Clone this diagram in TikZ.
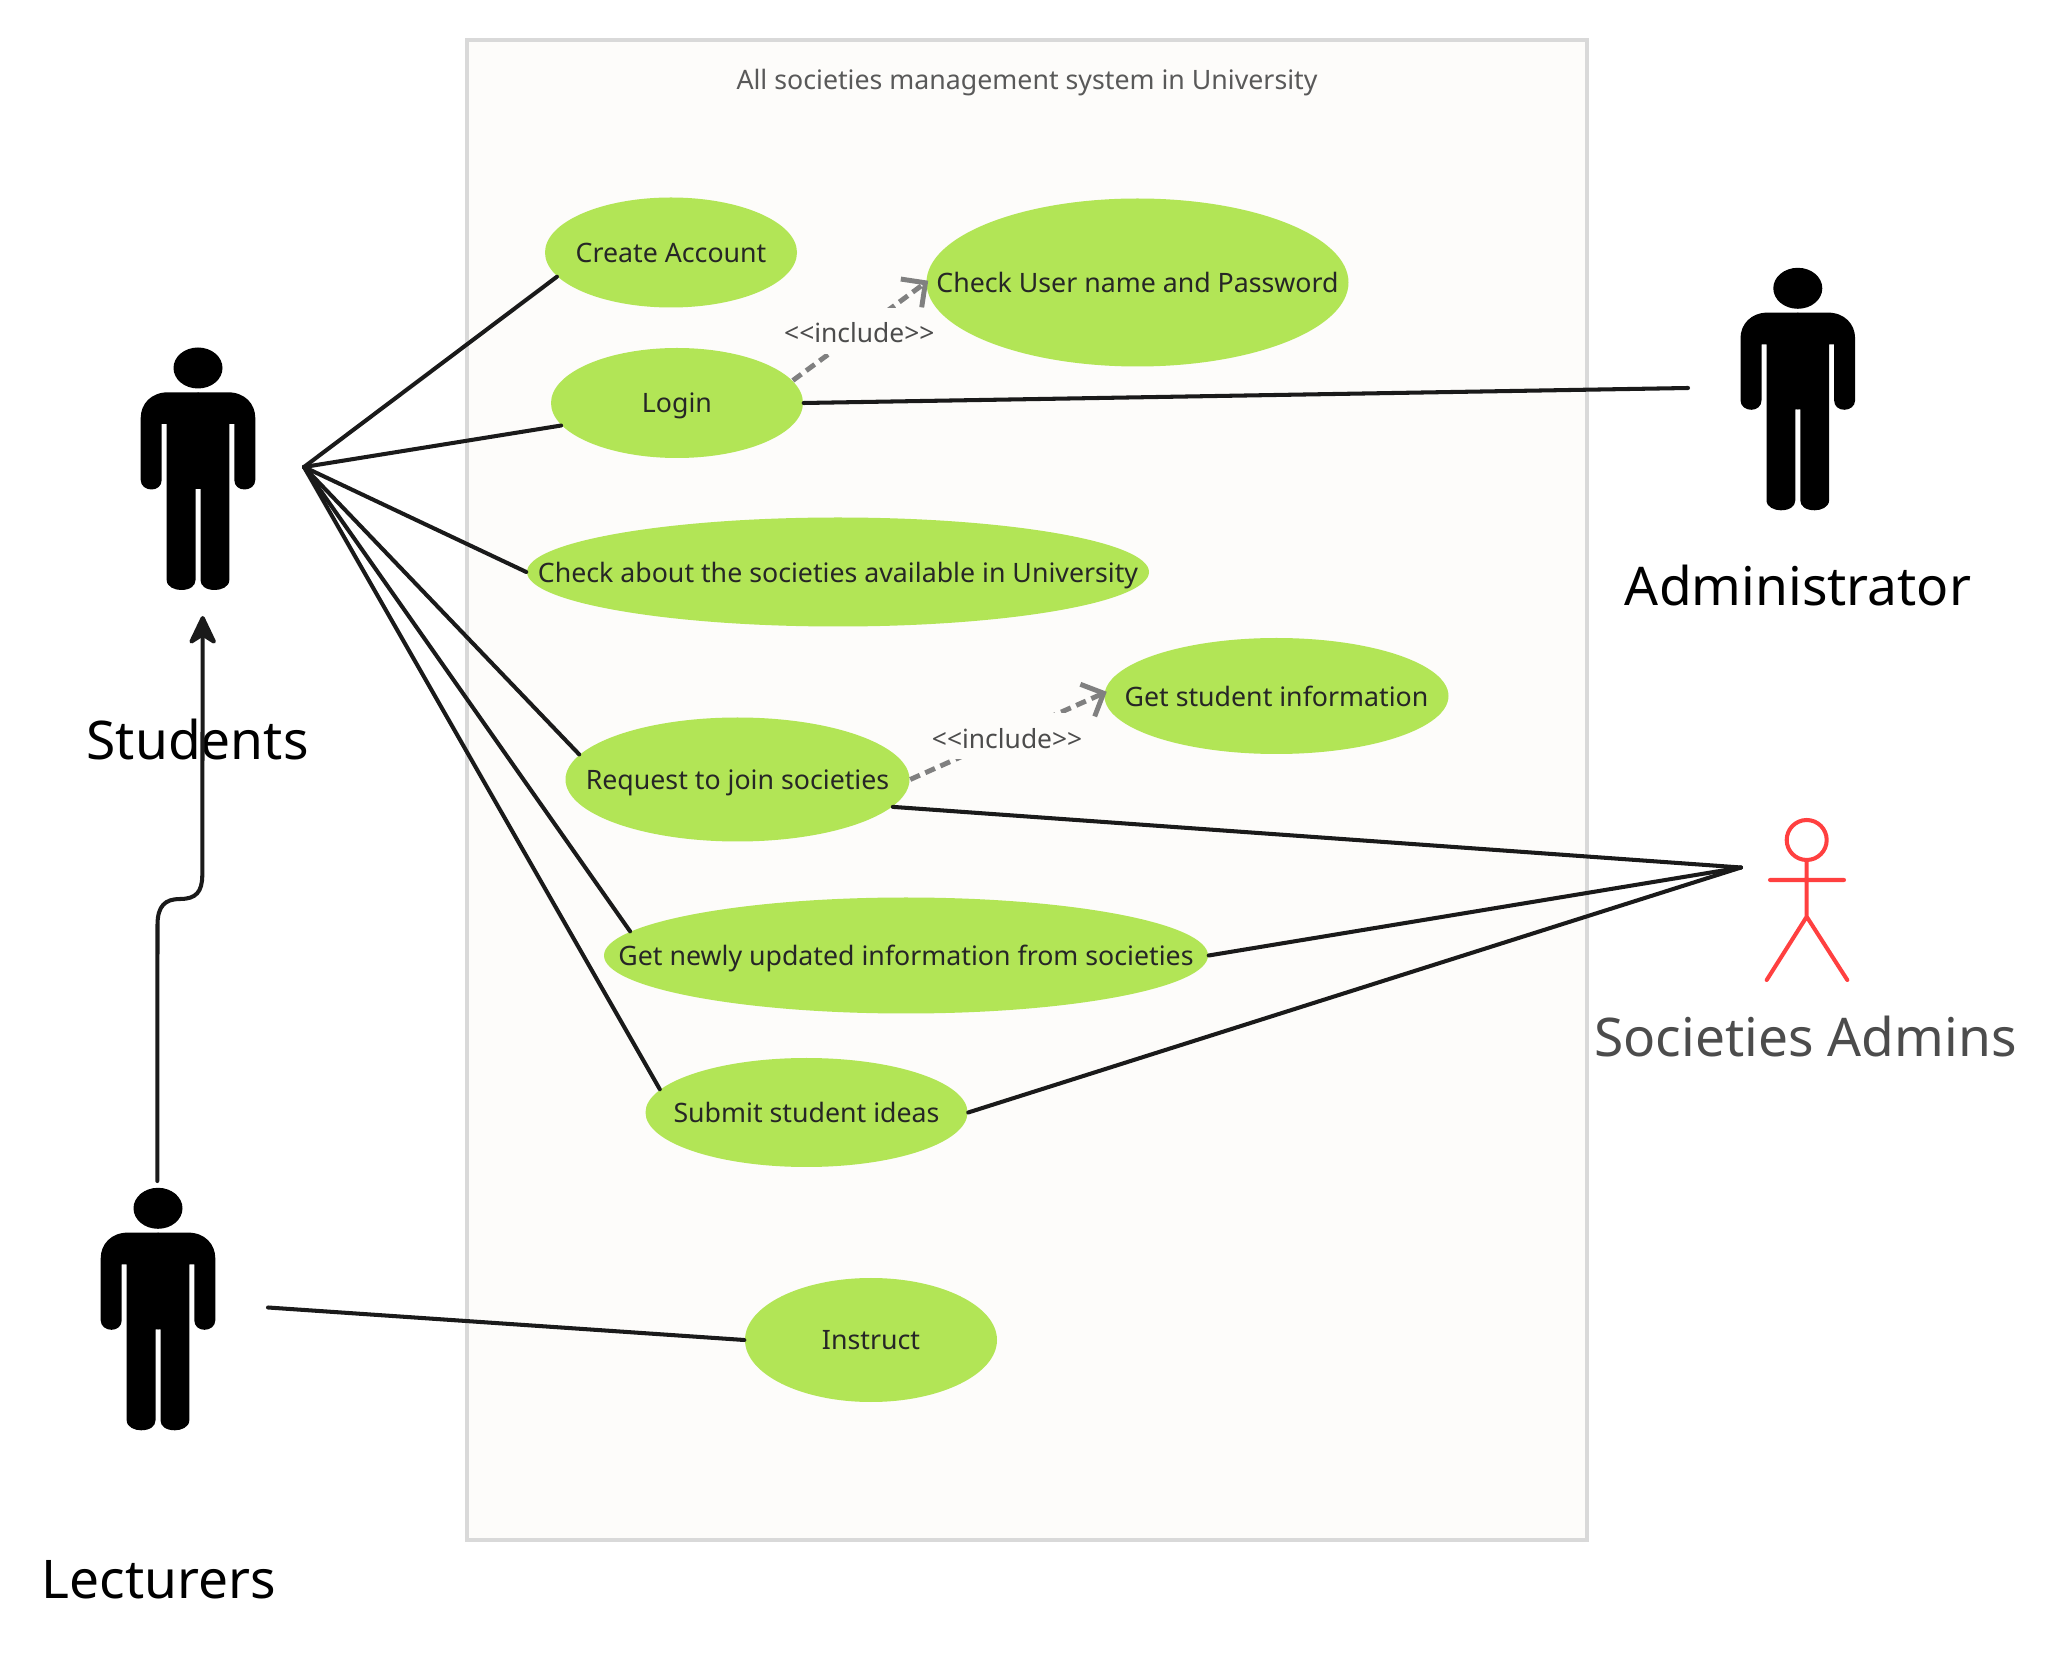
\documentclass[tikz,border=0pt]{standalone}
\usepackage{fontspec}
\setmainfont{Noto Sans}
\usepackage{mathtools}
\usetikzlibrary{shapes.geometric,arrows.meta}
\definecolor{framefill}{HTML}{FDFCFA}
\definecolor{framedraw}{HTML}{D9D9D9}
\definecolor{casefill}{HTML}{B2E556}
\definecolor{lineblack}{HTML}{1A1A1A}
\definecolor{includegray}{HTML}{808080}
\definecolor{actorred}{HTML}{FF4040}

\begin{document}
\begin{tikzpicture}[x=0.01cm, y=-0.01cm,
    usecase/.style={ellipse, fill=casefill, inner sep=0pt, text depth=0pt, text=black!85, font=\fontsize{7.6}{9}\selectfont},
    assoc/.style={draw=lineblack, line width=1.15pt, line cap=round},
    include/.style={draw=includegray, line width=1.4pt, dash pattern=on 3pt off 1.7pt, shorten >=-3*0.01cm, -{Straight Barb[length=5pt, width=10pt, line width=1.4pt]}},
    includelabel/.style={fill=framefill, inner sep=0pt, minimum height=46*0.01cm, text=black!70, font=\fontsize{7.5}{9}\selectfont},
    actorlabel/.style={font=\fontsize{15.15}{18}\selectfont},
    person/.pic={
      \fill[black] (0,0) ellipse (24.5 and 20.5);
      \foreach \s in {-1,1} {
        \fill[black, xscale=\s] (-0.5,24.3) -- (30,24.3) .. controls (47,24.3) and (57.3,36) .. (57.3,50)
          -- (57.3,112) .. controls (57.3,118) and (52,121.5) .. (46.5,121.5) .. controls (41,121.5) and (36.3,118) .. (36.3,112)
          -- (36.3,56) -- (31.3,56) -- (31.3,212) .. controls (31.3,219) and (23,222) .. (17,222)
          .. controls (8,222) and (2.5,218) .. (2.5,212) -- (2.5,121) -- (-0.5,121) -- cycle;
      }
    }]
    \useasboundingbox (0,0) rectangle (2059,1655);

    % System boundary with its title
    \node[draw=framedraw, fill=framefill, line width=1.15pt, inner sep=0pt, minimum width=1120*0.01cm, minimum height=1499.5*0.01cm] (system) at (1027,790) {};
    \node[text=black!65, text depth=0pt, font=\fontsize{7.6}{9}\selectfont] (title) at (1027,79) {All societies management system in University};

    % Use cases, text kept out of the ellipse size with \clap
    \node[usecase, minimum width=252*0.01cm, minimum height=110*0.01cm] (create) at (671,252.5) {\clap{Create Account}};
    \node[usecase, minimum width=252*0.01cm, minimum height=110*0.01cm] (login) at (677,403) {\clap{Login}};
    \node[usecase, minimum width=422*0.01cm, minimum height=168*0.01cm] (check) at (1137.5,282.5) {\clap{Check User name and Password}};
    \node[usecase, minimum width=622*0.01cm, minimum height=109*0.01cm] (about) at (838,572) {\clap{Check about the societies available in University}};
    \node[usecase, minimum width=344*0.01cm, minimum height=116*0.01cm] (info) at (1276.5,696) {\clap{Get student information}};
    \node[usecase, minimum width=344*0.01cm, minimum height=124*0.01cm] (request) at (737.5,779.5) {\clap{Request to join societies}};
    \node[usecase, minimum width=604*0.01cm, minimum height=116*0.01cm] (updates) at (906,955.5) {\clap{Get newly updated information from societies}};
    \node[usecase, minimum width=322*0.01cm, minimum height=109*0.01cm] (ideas) at (806.5,1112.5) {\clap{Submit student ideas}};
    \node[usecase, minimum width=252*0.01cm, minimum height=124*0.01cm] (instruct) at (871,1340) {\clap{Instruct}};

    % Actors: black figures, then the red stick figure
    \pic (students) at (198,368) {person};
    \pic (admin) at (1797.8,288.3) {person};
    \pic (lecturers) at (158,1208.3) {person};
    \node[actorlabel] (studentsname) at (197.6,740) {Students};
    \node[actorlabel] (adminname) at (1798,586) {Administrator};
    \node[actorlabel] (lecturersname) at (159,1580) {Lecturers};
    \node[actorlabel, text=black!70] (societiesname) at (1805.5,1037) {Societies Admins};

    \node[draw=actorred, circle, line width=1.15pt, minimum size=40*0.01cm, inner sep=0pt] (head) at (1806.7,840) {};
    \coordinate (hip) at (1806.7,916.7);
    \coordinate (armL) at (1770,880);
    \coordinate (armR) at (1844,880);
    \coordinate (legL) at (1766.7,980);
    \coordinate (legR) at (1847.3,980);
    \draw[draw=actorred, line width=1.15pt, line cap=round] (head.south) -- (hip) (armL) -- (armR) (legL) -- (hip) -- (legR);

    % Free ends of the associations
    \coordinate (studentshub) at (304,467);
    \coordinate (societieshub) at (1741,867.5);
    \coordinate (adminend) at (1688,388);
    \coordinate (lecturersend) at (268,1307.5);
    \coordinate (lecturerstop) at (157.3,1181);

    % Associations
    \foreach \c/\a in {create/192, login/191, about/180, request/171, updates/175, ideas/171.5} {
      \draw[assoc] (studentshub) -- (\c.\a);
    }
    \draw[assoc] (login.east) -- (adminend);
    \foreach \c/\a in {request/350, updates/0, ideas/0} {
      \draw[assoc] (\c.\a) -- (societieshub);
    }
    \draw[assoc] (lecturersend) -- (instruct.west);

    % Lecturers generalise Students
    \coordinate (studentstip) at (202.7,616);
    \draw[assoc, -{Stealth[length=9.5pt, width=9pt, inset=2.8pt, round]}] (lecturerstop) -- (157.5,925) .. controls (157.5,906) and (165,899) .. (180,899)
      .. controls (196,899) and (202.2,892) .. (202.3,875) -- (studentstip);

    % Includes, the label breaks the dashes
    \draw[include] (login.11) -- node[includelabel, text height=6.4pt] (include1) {<{}<include>{}>} (check.west);
    \draw[include] (request.east) -- node[includelabel, text height=7.1pt] (include2) {<{}<include>{}>} (info.179);
\end{tikzpicture}
\end{document}
